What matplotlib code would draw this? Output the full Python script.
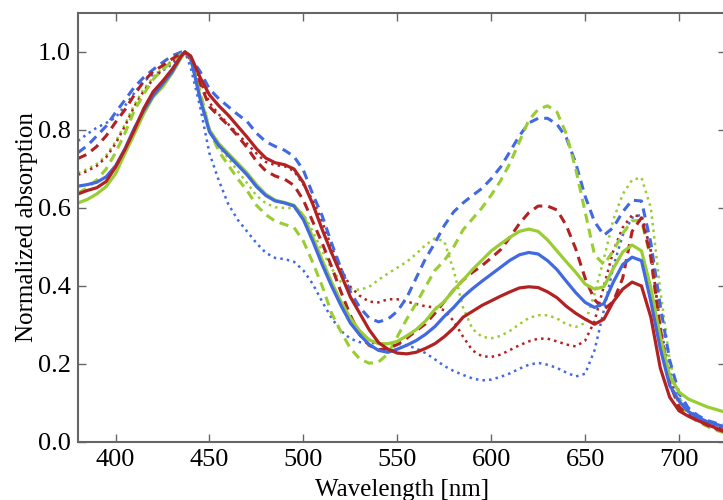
import numpy as np
import matplotlib.pyplot as plt

# wavelength grid (nm)
wl = [380, 385, 390, 395, 400, 405, 410, 415, 420, 425, 430, 435, 437, 440, 445, 450,
      455, 460, 465, 470, 475, 480, 485, 490, 495, 500, 505, 510, 515, 520, 525, 530,
      535, 540, 545, 550, 555, 560, 565, 570, 575, 580, 585, 590, 595, 600, 605, 610,
      615, 620, 625, 630, 635, 640, 645, 650, 655, 660, 665, 670, 675, 680, 685, 690,
      695, 700, 705, 710, 715, 720, 725]

blue_solid = [0.656, 0.660, 0.666, 0.680, 0.708, 0.752, 0.805, 0.850, 0.888, 0.918, 0.948, 0.990, 1.0, 0.985, 0.880, 0.795,
              0.760, 0.735, 0.710, 0.685, 0.655, 0.632, 0.618, 0.613, 0.605, 0.570, 0.515, 0.455, 0.400, 0.350, 0.305, 0.275,
              0.250, 0.235, 0.230, 0.238, 0.248, 0.260, 0.276, 0.296, 0.322, 0.345, 0.372, 0.393, 0.412, 0.430, 0.448, 0.466,
              0.480, 0.486, 0.482, 0.465, 0.442, 0.412, 0.383, 0.358, 0.345, 0.355, 0.410, 0.455, 0.474, 0.465, 0.360, 0.240,
              0.145, 0.105, 0.078, 0.063, 0.052, 0.045, 0.038]
green_solid = [0.613, 0.622, 0.636, 0.655, 0.688, 0.740, 0.790, 0.842, 0.885, 0.910, 0.945, 0.985, 1.0, 0.985, 0.885, 0.800,
               0.765, 0.740, 0.715, 0.690, 0.660, 0.635, 0.620, 0.614, 0.607, 0.580, 0.525, 0.467, 0.410, 0.360, 0.318, 0.285,
               0.262, 0.252, 0.252, 0.258, 0.272, 0.288, 0.310, 0.340, 0.360, 0.390, 0.415, 0.442, 0.466, 0.490, 0.508, 0.525,
               0.540, 0.546, 0.540, 0.518, 0.490, 0.462, 0.435, 0.405, 0.392, 0.398, 0.445, 0.487, 0.505, 0.490, 0.395, 0.270,
               0.170, 0.128, 0.110, 0.100, 0.090, 0.083, 0.076]
red_solid = [0.636, 0.645, 0.652, 0.668, 0.705, 0.750, 0.800, 0.855, 0.898, 0.925, 0.955, 0.990, 1.0, 0.990, 0.935, 0.890,
             0.862, 0.838, 0.810, 0.782, 0.752, 0.728, 0.716, 0.711, 0.700, 0.665, 0.610, 0.545, 0.485, 0.430, 0.372, 0.330,
             0.288, 0.255, 0.238, 0.228, 0.226, 0.230, 0.240, 0.252, 0.270, 0.292, 0.320, 0.335, 0.350, 0.362, 0.374, 0.385,
             0.395, 0.398, 0.396, 0.385, 0.370, 0.348, 0.330, 0.315, 0.302, 0.315, 0.360, 0.392, 0.410, 0.400, 0.320, 0.190,
             0.115, 0.080, 0.066, 0.055, 0.045, 0.035, 0.028]

blue_dashed = [0.742, 0.760, 0.785, 0.810, 0.845, 0.877, 0.910, 0.935, 0.955, 0.973, 0.990, 1.0, 1.0, 0.985, 0.950, 0.905,
               0.880, 0.860, 0.840, 0.822, 0.792, 0.770, 0.758, 0.748, 0.732, 0.697, 0.635, 0.580, 0.510, 0.445, 0.385, 0.345,
               0.318, 0.308, 0.315, 0.335, 0.370, 0.420, 0.470, 0.510, 0.555, 0.590, 0.613, 0.632, 0.650, 0.675, 0.705, 0.745,
               0.785, 0.818, 0.830, 0.830, 0.815, 0.780, 0.715, 0.630, 0.565, 0.530, 0.550, 0.590, 0.620, 0.618, 0.510, 0.350,
               0.210, 0.125, 0.087, 0.068, 0.055, 0.048, 0.043]
green_dashed = [0.638, 0.652, 0.672, 0.700, 0.742, 0.792, 0.850, 0.892, 0.930, 0.955, 0.975, 0.995, 1.0, 0.980, 0.900, 0.800,
                0.745, 0.710, 0.675, 0.645, 0.607, 0.583, 0.566, 0.558, 0.550, 0.515, 0.460, 0.400, 0.330, 0.283, 0.240, 0.213,
                0.202, 0.205, 0.226, 0.270, 0.315, 0.355, 0.398, 0.440, 0.465, 0.500, 0.544, 0.572, 0.600, 0.633, 0.670, 0.715,
                0.770, 0.825, 0.853, 0.862, 0.846, 0.790, 0.700, 0.590, 0.480, 0.455, 0.490, 0.535, 0.567, 0.568, 0.470, 0.290,
                0.160, 0.095, 0.068, 0.052, 0.040, 0.030, 0.022]
red_dashed = [0.727, 0.738, 0.758, 0.785, 0.820, 0.852, 0.890, 0.925, 0.950, 0.965, 0.982, 0.997, 1.0, 0.980, 0.920, 0.860,
              0.835, 0.812, 0.785, 0.755, 0.720, 0.695, 0.682, 0.674, 0.658, 0.620, 0.565, 0.510, 0.450, 0.385, 0.325, 0.275,
              0.248, 0.237, 0.239, 0.250, 0.266, 0.285, 0.303, 0.330, 0.360, 0.390, 0.415, 0.435, 0.452, 0.472, 0.493, 0.525,
              0.560, 0.588, 0.605, 0.605, 0.595, 0.555, 0.495, 0.420, 0.365, 0.340, 0.360, 0.420, 0.540, 0.575, 0.475, 0.290,
              0.150, 0.090, 0.068, 0.055, 0.043, 0.033, 0.025]

blue_dotted = [0.772, 0.790, 0.806, 0.818, 0.832, 0.862, 0.895, 0.925, 0.942, 0.952, 0.968, 0.995, 1.0, 0.960, 0.860, 0.740,
               0.670, 0.610, 0.570, 0.540, 0.510, 0.485, 0.472, 0.469, 0.462, 0.440, 0.405, 0.360, 0.318, 0.285, 0.265, 0.256,
               0.254, 0.253, 0.252, 0.252, 0.248, 0.240, 0.228, 0.212, 0.195, 0.182, 0.172, 0.163, 0.158, 0.160, 0.167, 0.176,
               0.188, 0.198, 0.203, 0.198, 0.190, 0.178, 0.168, 0.175, 0.235, 0.338, 0.450, 0.530, 0.575, 0.583, 0.490, 0.300,
               0.180, 0.112, 0.083, 0.065, 0.052, 0.043, 0.036]
green_dotted = [0.690, 0.700, 0.713, 0.735, 0.770, 0.815, 0.865, 0.905, 0.935, 0.958, 0.978, 0.995, 1.0, 0.980, 0.890, 0.800,
                0.755, 0.728, 0.695, 0.664, 0.632, 0.612, 0.602, 0.600, 0.600, 0.585, 0.540, 0.490, 0.445, 0.410, 0.393, 0.390,
                0.398, 0.416, 0.432, 0.447, 0.462, 0.482, 0.505, 0.522, 0.515, 0.440, 0.345, 0.290, 0.270, 0.266, 0.272, 0.285,
                0.302, 0.318, 0.325, 0.325, 0.317, 0.302, 0.295, 0.305, 0.380, 0.470, 0.570, 0.635, 0.672, 0.678, 0.600, 0.390,
                0.210, 0.115, 0.077, 0.055, 0.042, 0.032, 0.026]
red_dotted = [0.685, 0.695, 0.708, 0.730, 0.765, 0.810, 0.860, 0.900, 0.930, 0.955, 0.975, 0.995, 1.0, 0.985, 0.925, 0.870,
              0.840, 0.815, 0.790, 0.765, 0.740, 0.718, 0.710, 0.707, 0.695, 0.660, 0.620, 0.565, 0.500, 0.445, 0.398, 0.375,
              0.360, 0.358, 0.366, 0.366, 0.360, 0.354, 0.348, 0.345, 0.338, 0.310, 0.270, 0.235, 0.220, 0.218, 0.224, 0.236,
              0.248, 0.258, 0.265, 0.265, 0.258, 0.250, 0.245, 0.260, 0.310, 0.400, 0.490, 0.550, 0.582, 0.578, 0.490, 0.290,
              0.160, 0.098, 0.074, 0.056, 0.045, 0.038, 0.034]

blue = '#4169E1'
green = '#9ACD32'
red = '#B22222'

plt.rcParams['font.family'] = ['Liberation Serif', 'DejaVu Serif']

fig = plt.figure(figsize=(7.23, 5.0), dpi=100)
ax = fig.add_axes([78 / 723, 58 / 500, 648 / 723, 429 / 500])

x = np.array(wl)
ax.plot(x, blue_dotted, color=blue, ls=':', lw=1.8)
ax.plot(x, green_dotted, color=green, ls=':', lw=1.8)
ax.plot(x, red_dotted, color=red, ls=':', lw=1.8)
ax.plot(x, blue_dashed, color=blue, ls='--', lw=2.2, dashes=(3, 2))
ax.plot(x, green_dashed, color=green, ls='--', lw=2.2, dashes=(3, 2))
ax.plot(x, red_dashed, color=red, ls='--', lw=2.2, dashes=(3, 2))
ax.plot(x, green_solid, color=green, lw=2.3)
ax.plot(x, blue_solid, color=blue, lw=2.3)
ax.plot(x, red_solid, color=red, lw=2.3)

ax.set_xlim(380, 725)
ax.set_ylim(0, 1.1)
ax.set_xticks([400, 450, 500, 550, 600, 650, 700])
ax.set_yticks([0.0, 0.2, 0.4, 0.6, 0.8, 1.0])
ax.set_xlabel('Wavelength [nm]', fontsize=18, labelpad=6)
ax.set_ylabel('Normalized absorption', fontsize=18, labelpad=0)

for s in ax.spines.values():
    s.set_color('#666666')
    s.set_linewidth(1.5)
ax.tick_params(direction='in', top=True, right=True, length=6, width=1,
               color='#666666', labelsize=19, pad=5)

fig.savefig('out.png', dpi=100)
